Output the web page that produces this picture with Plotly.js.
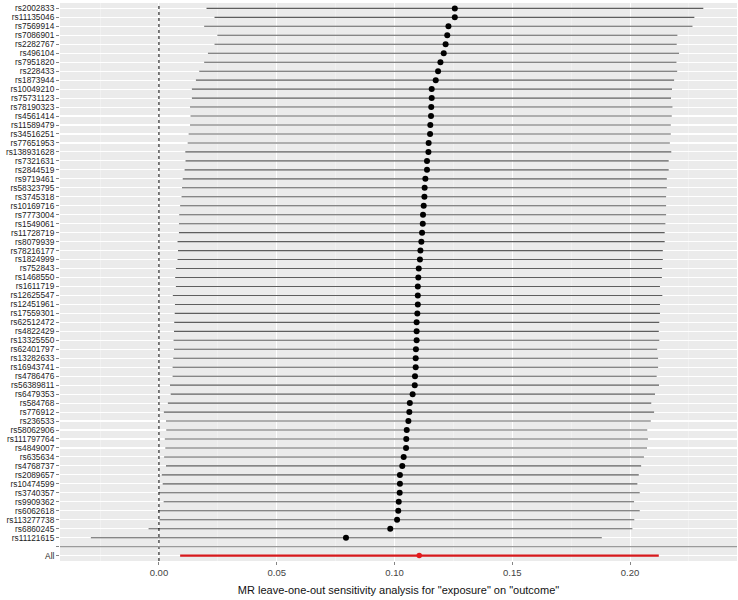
<!DOCTYPE html>
<html>
<head>
<meta charset="utf-8">
<script src="https://cdn.plot.ly/plotly-3.0.1.min.js"></script>
<style>html,body{margin:0;padding:0;background:#fff;}#chart{width:738px;height:600px;}</style>
</head>
<body>
<div id="chart"></div>
<script>
// SNP labels, top to bottom
var snps = ["rs2002833","rs11135046","rs7569914","rs7086901","rs2282767","rs496104","rs7951820","rs228433","rs1873944","rs10049210",
"rs75731123","rs78190323","rs4561414","rs11589479","rs34516251","rs77651953","rs138931628","rs7321631","rs2844519","rs9719461",
"rs58323795","rs3745318","rs10169716","rs7773004","rs1549061","rs11728719","rs8079939","rs78216177","rs1824999","rs752843",
"rs1468550","rs1611719","rs12625547","rs12451961","rs17559301","rs62512472","rs4822429","rs13325550","rs62401797","rs13282633",
"rs16943741","rs4786476","rs56389811","rs6479353","rs584768","rs776912","rs236533","rs58062906","rs111797764","rs4849007",
"rs635634","rs4768737","rs2089657","rs10474599","rs3740357","rs9909362","rs6062618","rs113277738","rs6860245","rs11121615"];
// leave-one-out estimates
var b = [0.1256,0.1256,0.1229,0.1224,0.1217,0.1209,0.1195,0.1185,0.1175,0.1158,
0.1158,0.1156,0.1155,0.1152,0.1151,0.1145,0.1144,0.1138,0.1138,0.1131,
0.1128,0.1127,0.1124,0.1121,0.1120,0.1117,0.1114,0.1110,0.1108,0.1103,
0.1101,0.1099,0.1099,0.1099,0.1097,0.1094,0.1094,0.1094,0.1091,0.1090,
0.1090,0.1087,0.1086,0.1077,0.1065,0.1063,0.1059,0.1052,0.1050,0.1049,
0.1039,0.1033,0.1023,0.1023,0.1022,0.1018,0.1016,0.1011,0.0982,0.0794];
var lo = [0.0202,0.0236,0.0192,0.0248,0.0236,0.0208,0.0192,0.0171,0.0157,0.0140,
0.0140,0.0132,0.0134,0.0132,0.0126,0.0122,0.0112,0.0113,0.0109,0.0101,
0.0098,0.0096,0.0090,0.0086,0.0085,0.0085,0.0079,0.0081,0.0079,0.0072,
0.0069,0.0072,0.0059,0.0068,0.0067,0.0065,0.0064,0.0062,0.0064,0.0061,
0.0058,0.0058,0.0047,0.0050,0.0038,0.0021,0.0030,0.0031,0.0025,0.0027,
0.0022,0.0030,0.0012,0.0016,0.0000,0.0020,-0.0004,0.0002,-0.0044,-0.0289];
var hi = [0.2311,0.2273,0.2265,0.2201,0.2198,0.2208,0.2197,0.2200,0.2187,0.2178,
0.2174,0.2180,0.2177,0.2173,0.2173,0.2169,0.2175,0.2164,0.2164,0.2156,
0.2156,0.2153,0.2153,0.2153,0.2150,0.2147,0.2147,0.2139,0.2139,0.2136,
0.2135,0.2127,0.2137,0.2127,0.2127,0.2124,0.2122,0.2124,0.2115,0.2119,
0.2119,0.2113,0.2123,0.2106,0.2090,0.2102,0.2088,0.2073,0.2076,0.2072,
0.2059,0.2047,0.2037,0.2031,0.2041,0.2017,0.2041,0.2018,0.2010,0.1880];
// overall estimate
var allLabel = "All";
var allB = 0.1105, allLo = 0.0090, allHi = 0.2122;
var xTicks = [0, 0.05, 0.10, 0.15, 0.20];
var xTickText = ["0.00","0.05","0.10","0.15","0.20"];
var xTitle = 'MR leave-one-out sensitivity analysis for "exposure" on "outcome"';

var rows = snps.concat(["", allLabel]);
var nRows = rows.length;
var yPos = rows.map(function(_, i){ return nRows - i; });
var ySnp = yPos.slice(0, snps.length);
var yAll = yPos[nRows - 1];
var yBlank = yPos[nRows - 2];

var traces = [
  {
    type: 'scatter', mode: 'markers',
    x: b, y: ySnp,
    marker: {color: '#000000', size: 6},
    error_x: {
      type: 'data', symmetric: false,
      array: hi.map(function(h, i){ return h - b[i]; }),
      arrayminus: lo.map(function(l, i){ return b[i] - l; }),
      width: 0, color: '#5e5e5e', thickness: 1.1
    },
    hoverinfo: 'x+y', showlegend: false
  },
  {
    type: 'scatter', mode: 'markers',
    x: [allB], y: [yAll],
    marker: {color: '#e41a1c', size: 5.5},
    error_x: {
      type: 'data', symmetric: false,
      array: [allHi - allB], arrayminus: [allB - allLo],
      width: 0, color: '#d7191c', thickness: 2.4
    },
    showlegend: false
  }
];

var layout = {
  width: 738, height: 600,
  margin: {l: 60, r: 1, t: 3, b: 39},
  paper_bgcolor: '#ffffff',
  plot_bgcolor: '#ebebeb',
  font: {family: 'Liberation Sans, Arial, sans-serif', color: '#333333'},
  showlegend: false,
  xaxis: {
    range: [-0.042, 0.2454],
    tickvals: xTicks, ticktext: xTickText,
    showgrid: true, gridcolor: '#ffffff', gridwidth: 1.1,
    minor: {dtick: 0.025, tick0: 0, showgrid: true, gridcolor: '#f7f7f7', gridwidth: 0.5, ticks: ''},
    zeroline: false, showline: false,
    ticks: 'outside', ticklen: 3, tickcolor: '#333333', tickwidth: 0.6,
    tickfont: {size: 9.5, color: '#444444'},
    title: {text: xTitle, font: {size: 11, color: '#111111'}, standoff: 8},
    fixedrange: true
  },
  yaxis: {
    range: [0.4, nRows + 0.6],
    tickvals: yPos, ticktext: rows,
    showgrid: true, gridcolor: '#ffffff', gridwidth: 1.1,
    zeroline: false, showline: false,
    ticks: 'outside', ticklen: 3, tickcolor: '#333333', tickwidth: 0.6,
    tickfont: {size: 8.3, color: '#222222'},
    automargin: false,
    fixedrange: true
  },
  shapes: [
    {type: 'line', xref: 'x', yref: 'paper', x0: 0, x1: 0, y0: 0, y1: 1,
     line: {color: '#000000', width: 1, dash: 'dot'}, layer: 'above'},
    {type: 'line', xref: 'paper', yref: 'y', x0: 0, x1: 1, y0: yBlank, y1: yBlank,
     line: {color: '#9a9a9a', width: 1.2}, layer: 'above'}
  ]
};

Plotly.newPlot('chart', traces, layout, {displayModeBar: false, staticPlot: true});
</script>
</body>
</html>
